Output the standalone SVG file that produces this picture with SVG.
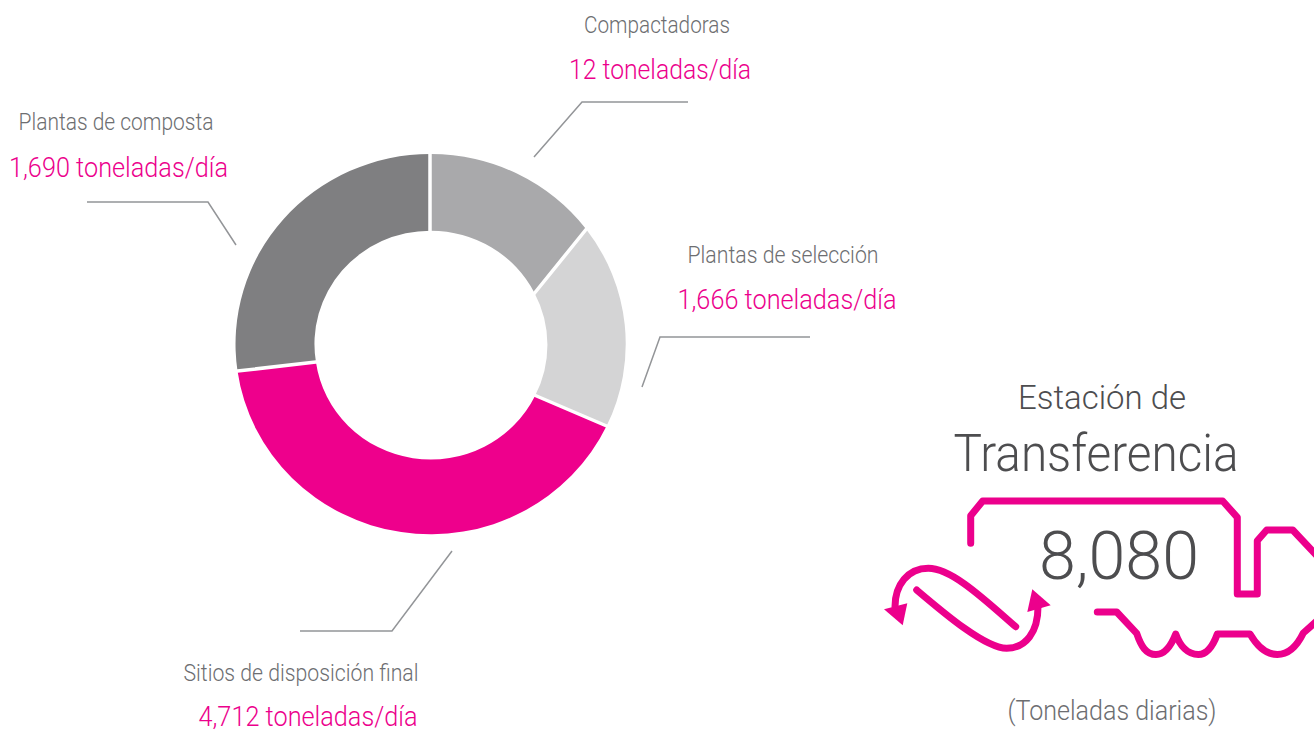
<svg xmlns="http://www.w3.org/2000/svg" width="1314" height="731" viewBox="0 0 1314 731">
<style>
text{font-family:Roboto,Inter,"Liberation Sans",sans-serif;font-weight:300}
.l{font-size:24px;fill:#6d6e71}
.v{font-size:27px;fill:#ec008c}
.t{fill:#4d4d4f}
.lead{fill:none;stroke:#939598;stroke-width:1.5}
.truck{fill:none;stroke:#ec008c;stroke-width:7;stroke-linecap:round;stroke-linejoin:round}
.head{fill:#ec008c}
.gap{stroke:#fff;stroke-width:3.500;fill:none}
</style>
<rect width="1314" height="731" fill="#fff"/>
<g id="donut">
<path id="slice-compactadoras" fill="#a9a9ab" d="M430.700 154A195 190 0 0 1 586 229L534.500 293A116 113.300 0 0 0 430.700 230.700Z"/>
<path id="slice-seleccion" fill="#d4d4d5" d="M586 229A195 190 0 0 1 606.700 425.800L535 396A116 113.300 0 0 0 534.500 293Z"/>
<path id="slice-disposicion" fill="#ee008c" d="M606.700 425.800A195 190 0 0 1 237.500 371L316 362.500A116 113.300 0 0 0 535 396Z"/>
<path id="slice-composta" fill="#7f7f81" d="M237.500 371A195 190 0 0 1 430.700 154V230.700A116 113.300 0 0 0 316 362.500Z"/>
<path class="gap" d="M430 152V232M588 227L533 295M609 427L533 394.500M235 371.300L318 361.800"/>
</g>
<g id="connectors">
<path class="lead" d="M534 157L582 102H688"/>
<path class="lead" d="M236 245L208 202H87"/>
<path class="lead" d="M642 387L660 337H810"/>
<path class="lead" d="M452 551L392 631H300"/>
</g>
<g id="node-compactadoras">
<text class="l" x="657" y="33" text-anchor="middle" textLength="146" lengthAdjust="spacingAndGlyphs">Compactadoras</text>
<text class="v" x="660" y="79" text-anchor="middle" textLength="182" lengthAdjust="spacingAndGlyphs">12 toneladas/día</text>
</g>
<g id="node-composta">
<text class="l" x="116" y="130" text-anchor="middle" textLength="195" lengthAdjust="spacingAndGlyphs">Plantas de composta</text>
<text class="v" x="118.500" y="177" text-anchor="middle" textLength="219" lengthAdjust="spacingAndGlyphs">1,690 toneladas/día</text>
</g>
<g id="node-seleccion">
<text class="l" x="783" y="263" text-anchor="middle" textLength="191" lengthAdjust="spacingAndGlyphs">Plantas de selección</text>
<text class="v" x="787" y="309" text-anchor="middle" textLength="219" lengthAdjust="spacingAndGlyphs">1,666 toneladas/día</text>
</g>
<g id="node-disposicion">
<text class="l" x="301" y="681" text-anchor="middle" textLength="235" lengthAdjust="spacingAndGlyphs">Sitios de disposición final</text>
<text class="v" x="308" y="726" text-anchor="middle" textLength="219" lengthAdjust="spacingAndGlyphs">4,712 toneladas/día</text>
</g>
<g id="node-estacion">
<text class="t" x="1102" y="409" font-size="34" text-anchor="middle" textLength="168" lengthAdjust="spacingAndGlyphs">Estación de</text>
<text class="t" x="1096" y="471" font-size="52" text-anchor="middle" textLength="285" lengthAdjust="spacingAndGlyphs">Transferencia</text>
<text class="t" x="1119" y="579" font-size="67" text-anchor="middle" textLength="160" lengthAdjust="spacingAndGlyphs">8,080</text>
<text class="l" x="1112" y="720" style="font-size:27px" text-anchor="middle" textLength="209" lengthAdjust="spacingAndGlyphs">(Toneladas diarias)</text>
</g>
<g id="truck">
<path class="truck" d="M970.700 543.300V515.700L982.700 501H1222.700L1237.300 517.300V594H1257.300V540.700L1266.700 530H1292.700L1318 557"/>
<path class="truck" d="M1097.300 612H1116.700L1136.700 633.300C1141 646 1146 654.500 1156 654.500C1165 654.500 1171 646 1175.700 634C1180 646 1188 654.500 1198.300 654.500C1207 654.500 1213 646 1217.300 634H1250C1257 646 1265 654.500 1277.300 654.500C1289 654.500 1297 646 1303.300 633L1318 620"/>
</g>
<g id="recycle">
<path class="truck" d="M916.700 590C945 614 985 648 1006.700 648.300C1026 648 1038 632 1038 606.700"/>
<polygon class="head" points="1032.300,589.300 1050.700,605.300 1027.300,612"/>
<path class="truck" d="M1015.700 626.700C985 600 952 568.300 928.300 568.300C908 568.300 895 585 895 606.700"/>
<polygon class="head" points="884,609.300 902.700,625.300 907.300,603.300"/>
</g>
</svg>
